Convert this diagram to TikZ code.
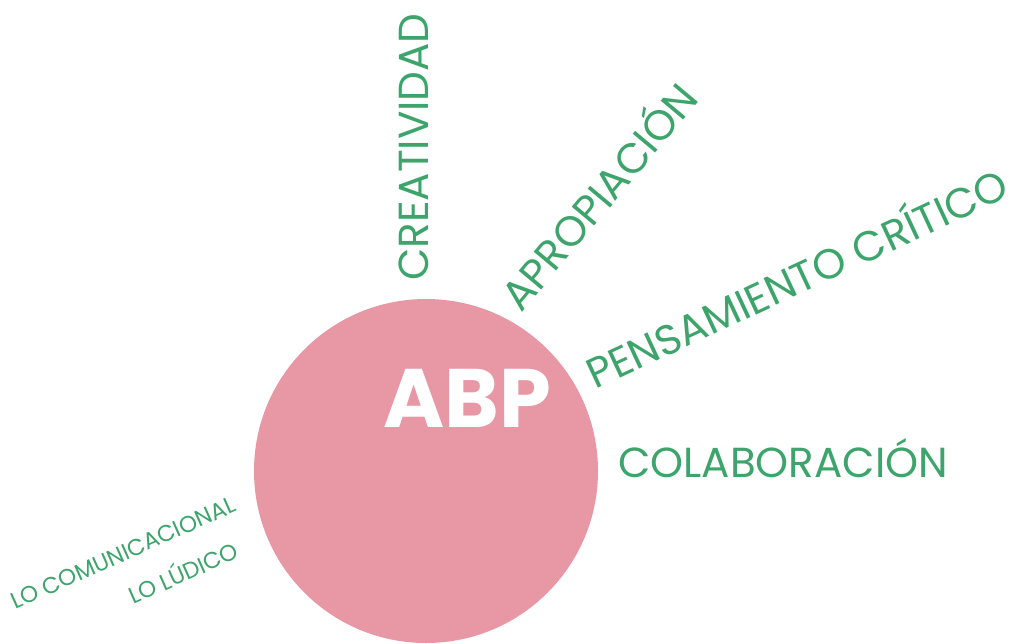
\documentclass[tikz,border=0pt]{standalone}
\usepackage{fontspec}
\setmainfont{Poppins}
\definecolor{abppink}{HTML}{E897A5}
\definecolor{abpgreen}{HTML}{3DA56B}
\begin{document}
\begin{tikzpicture}[x=1pt,y=-1pt,
    idea/.style={abpgreen, inner sep=0pt, anchor=base west, font=\fontsize{42}{42}\selectfont},
    minor/.style={idea, font=\fontsize{23}{23}\selectfont}]
  \useasboundingbox (0,0) rectangle (1020,643);
  % circulo central
  \fill[abppink] (426,471) circle (172);
  \node[white, inner sep=0pt, font=\fontsize{83}{83}\selectfont\bfseries] (abp) at (467,398) {ABP};
  % ideas alrededor
  \node[idea, rotate=90] (creat) at (428,281) {CREATIVIDAD};
  \node[idea, rotate=50] (aprop) at (521,314) {APROPIACIÓN};
  \node[idea, rotate=25] (pens) at (595,390) {PENSAMIENTO CRÍTICO};
  \node[idea] (colab) at (618,477) {COLABORACIÓN};
  \node[minor, rotate=24] (comun) at (15,610) {LO COMUNICACIONAL};
  \node[minor, rotate=24] (ludico) at (133,605) {LO LÚDICO};
\end{tikzpicture}
\end{document}
